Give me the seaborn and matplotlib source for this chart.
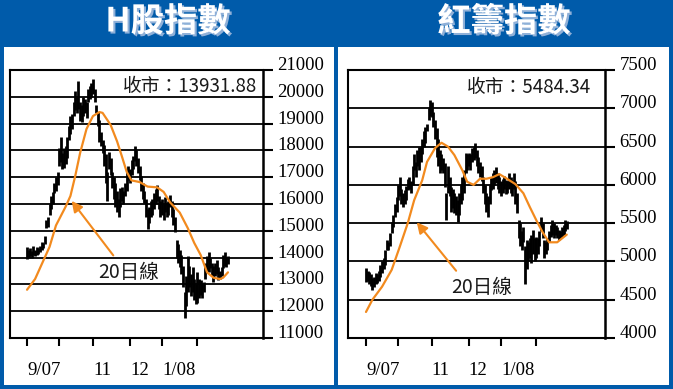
import matplotlib
matplotlib.use("Agg")
import matplotlib.pyplot as plt
import matplotlib.patheffects as pe
from matplotlib.patches import Rectangle
import numpy as np
import seaborn as sns

# ---- data ----
# H-share index, daily low / high, Sep 2007 - Feb 2008
h_low = [13950, 14000, 14050, 14000, 14100, 14050, 14100, 14150, 14200, 14300,
         14350, 14500, 15100, 15150, 15600, 15800, 16000, 16400, 16500, 16700,
         17400, 17550, 17300, 17350, 17500, 17700, 18400, 18600, 18800, 19300,
         19500, 19400, 19550, 19100, 19050, 19300, 19400, 19200, 19800, 19900,
         20000, 20100, 19800, 19400, 18900, 18300, 18150, 17900, 17400, 16800,
         16100, 17300, 17100, 16600, 16200, 15900, 15700, 15500, 15900, 16100,
         16000, 16300, 16500, 16900, 16800, 17100, 17300, 17600, 17400, 17150,
         16900, 16500, 16200, 16050, 15500, 15050, 15300, 15500, 15600, 15800,
         16000, 16100, 15800, 15500, 15600, 15400, 15700, 15500, 15600, 15900,
         15500, 15200, 14950, 14000, 13800, 13650, 13400, 12900, 11750, 12200,
         12700, 12900, 12550, 12700, 12400, 12250, 12300, 12500, 12600, 12500,
         12700, 13200, 13500, 13450, 13600, 13300, 13100, 13300, 13400, 13150,
         13200, 13300, 13600, 13700, 13650, 13750]
h_high = [14400, 14300, 14350, 14250, 14450, 14300, 14400, 14350, 14450, 14600,
          14550, 14800, 15400, 15500, 16000, 16300, 16450, 16800, 17000, 17200,
          18100, 18500, 17900, 18100, 18150, 18500, 18900, 19300, 19350, 19800,
          20200, 20000, 20600, 19800, 19700, 20000, 19900, 19800, 20300, 20400,
          20500, 20650, 20300, 19700, 19450, 19150, 18700, 18400, 18200, 17850,
          17200, 17950, 17700, 17200, 17000, 16800, 16500, 16200, 16600, 16650,
          16500, 16800, 17200, 17400, 17300, 17650, 17800, 18150, 18000, 17700,
          17400, 17050, 16800, 16500, 16200, 15800, 15900, 16100, 16200, 16400,
          16550, 16700, 16300, 16100, 16200, 16000, 16250, 16050, 16100, 16350,
          16100, 15800, 15500, 14650, 14500, 14300, 14100, 13700, 12700, 13300,
          14050, 13700, 13400, 13650, 13200, 13000, 13450, 13200, 13150, 13000,
          13100, 13800, 14050, 14200, 14000, 13800, 13700, 13800, 13900, 13650,
          13500, 13650, 14100, 14200, 14000, 14050]
h_ma_day = [0, 5, 8, 14, 18, 24, 27, 30, 33, 37, 41, 45, 47, 52, 56, 59, 62, 65,
            70, 75, 81, 85, 89, 95, 100, 104, 108, 112, 116, 120, 122, 125]
h_ma = [12800, 13200, 13600, 14400, 15200, 15900, 16300, 17050, 17900, 18800,
        19280, 19430, 19400, 18950, 18340, 17780, 17200, 16880, 16820, 16650,
        16620, 16450, 16060, 15680, 15100, 14550, 14100, 13450, 13250, 13200,
        13250, 13450]

# Red-chip index, daily low / high
r_low = [4730, 4750, 4700, 4680, 4630, 4660, 4700, 4720, 4750, 4800,
         4850, 4900, 4950, 5150, 5150, 5200, 5370, 5450, 5580, 5650,
         5800, 5850, 5750, 5710, 5750, 5800, 5930, 5950, 5900, 6000,
         6190, 6100, 6250, 6200, 6300, 6400, 6500, 6550, 6700, 6850,
         6900, 6880, 6760, 6600, 6360, 6250, 6150, 6200, 6150, 5970,
         5540, 5900, 5850, 5650, 5700, 5630, 5600, 5520, 5600, 5750,
         5800, 5900, 6150, 6200, 6250, 6200, 6300, 6320, 6350, 6250,
         6150, 6100, 6050, 5900, 5750, 5650, 5580, 5750, 5930, 5950,
         6000, 6030, 5950, 5900, 5850, 5900, 5950, 5880, 5900, 5950,
         5900, 5850, 5950, 5750, 5630, 5300, 5200, 5150, 5250, 4700,
         4900, 5000, 5050, 4980, 5100, 5000, 5050, 5100, 5200, 5400,
         5300, 5050, 5100, 5150, 5250, 5320, 5350, 5300, 5350, 5300,
         5280, 5300, 5320, 5350, 5400, 5420]
r_high = [4920, 4880, 4860, 4830, 4780, 4800, 4850, 4830, 4870, 4950,
          5000, 5040, 5150, 5280, 5250, 5370, 5510, 5600, 5750, 5840,
          6000, 6100, 5950, 5900, 5930, 5980, 6080, 6100, 6050, 6250,
          6400, 6300, 6450, 6500, 6500, 6600, 6700, 6760, 6800, 7000,
          7110, 7080, 6950, 6850, 6740, 6600, 6450, 6400, 6350, 6290,
          5900, 6250, 6100, 5970, 5950, 5900, 5850, 5800, 5900, 6000,
          6100, 6200, 6410, 6400, 6420, 6400, 6480, 6500, 6550, 6450,
          6360, 6300, 6250, 6100, 6000, 5900, 5850, 6000, 6100, 6150,
          6200, 6230, 6150, 6100, 6050, 6080, 6120, 6060, 6050, 6150,
          6100, 6060, 6150, 6050, 5900, 5540, 5500, 5400, 5450, 5200,
          5280, 5250, 5300, 5350, 5410, 5300, 5320, 5300, 5400, 5580,
          5500, 5280, 5250, 5300, 5400, 5480, 5540, 5500, 5480, 5450,
          5410, 5400, 5450, 5480, 5540, 5530]
r_ma_day = [0, 4, 10, 16, 21, 26, 30, 35, 38, 43, 47, 51, 55, 60, 63, 67, 71,
            75, 79, 83, 87, 93, 98, 102, 106, 110, 114, 119, 122, 125]
r_ma = [4340, 4500, 4670, 4890, 5190, 5500, 5800, 6060, 6300, 6480, 6550,
        6500, 6390, 6190, 6040, 6000, 6080, 6080, 6100, 6140, 6090, 6010,
        5890, 5710, 5540, 5380, 5250, 5250, 5300, 5350]

month_ticks = [0, 20, 41, 64, 84, 106]
month_labels = ["9/07", "", "11", "12", "1/08", ""]
h_yticks = list(range(11000, 21001, 1000))
r_yticks = list(range(4000, 7501, 500))

BLUE = "#005BAA"
ORANGE = "#F28A1E"
SERIF = "Liberation Serif"

sns.set_theme(style="white")
plt.rcParams["font.family"] = ["Noto Sans CJK TC", "DejaVu Sans"]

fig = plt.figure(figsize=(6.73, 3.89), dpi=100)
fig.patch.set_facecolor(BLUE)

# white panel boxes
for x0, x1 in [(4, 334), (338, 669)]:
    fig.add_artist(Rectangle((x0 / 673, 1 - 385 / 389), (x1 - x0) / 673, (385 - 47) / 389,
                             transform=fig.transFigure, facecolor="white", edgecolor="none", zorder=0))

shadow = [pe.SimplePatchShadow(offset=(1.5, -1.5), shadow_rgbFace="#8fb0d8", alpha=1), pe.Normal()]
fig.text(168 / 673, 1 - 22 / 389, "H股指數", color="white", fontsize=24, fontweight="black",
         ha="center", va="center", path_effects=shadow)
fig.text(504 / 673, 1 - 22 / 389, "紅籌指數", color="white", fontsize=24, fontweight="black",
         ha="center", va="center", path_effects=shadow)


def draw_panel(ax, low, high, ma_day, ma, yticks, xlim, close_txt, close_pos, label_pos, tail, head):
    days = np.arange(len(low))
    ax.set_facecolor("white")
    ax.vlines(days, low, high, color="black", lw=2.0, zorder=3)
    sns.lineplot(x=ma_day, y=ma, ax=ax, color=ORANGE, lw=1.6, zorder=4)
    ax.set_xlim(*xlim)
    ax.set_ylim(yticks[0], yticks[-1])

    ax.yaxis.tick_right()
    ax.set_yticks(yticks)
    ax.set_yticklabels([str(v) for v in yticks], fontfamily=SERIF, fontsize=13.5)
    for t in ax.get_yticklabels():
        t.set_verticalalignment("baseline")
    ax.set_xticks(month_ticks)
    ax.set_xticklabels(month_labels, fontfamily=SERIF, fontsize=13.5, ha="left")
    ax.tick_params(axis="y", right=True, left=False, length=7, width=1.5, color="black",
                   pad=3.5, labelcolor="black")
    ax.tick_params(axis="x", bottom=True, length=6, width=1.5, color="black",
                   pad=11, labelcolor="black")
    ax.yaxis.grid(True, color="black", lw=1.3)
    ax.set_axisbelow(True)
    for s in ax.spines.values():
        s.set_color("black")
        s.set_linewidth(1.5)
    ax.spines["right"].set_linewidth(1.8)
    ax.set_xlabel("")
    ax.set_ylabel("")

    ax.text(close_pos[0], close_pos[1], close_txt, transform=ax.transAxes, ha="right",
            va="center", fontsize=13.5, color="#1a1a1a")
    ax.annotate("", xy=head, xytext=tail,
                arrowprops=dict(arrowstyle="-|>", color=ORANGE, lw=1.5, mutation_scale=16))
    ax.text(label_pos[0], label_pos[1], "20日線", ha="center", va="center",
            fontsize=14, color="#1a1a1a")


ax1 = fig.add_axes([10 / 673, 1 - 338 / 389, 253 / 673, 268 / 389])
draw_panel(ax1, h_low, h_high, h_ma_day, h_ma, h_yticks, (-10.6, 146.8),
           "收市：13931.88", (0.976, 0.937), (63.4, 13450), (54.7, 14000), (26.7, 16200))

ax2 = fig.add_axes([348 / 673, 1 - 338 / 389, 257 / 673, 268 / 389])
draw_panel(ax2, r_low, r_high, r_ma_day, r_ma, r_yticks, (-11.2, 148.8),
           "收市：5484.34", (0.946, 0.935), (72.1, 4666), (57.2, 4850), (30.5, 5540))

fig.savefig("out.png", dpi=100, facecolor=BLUE)
